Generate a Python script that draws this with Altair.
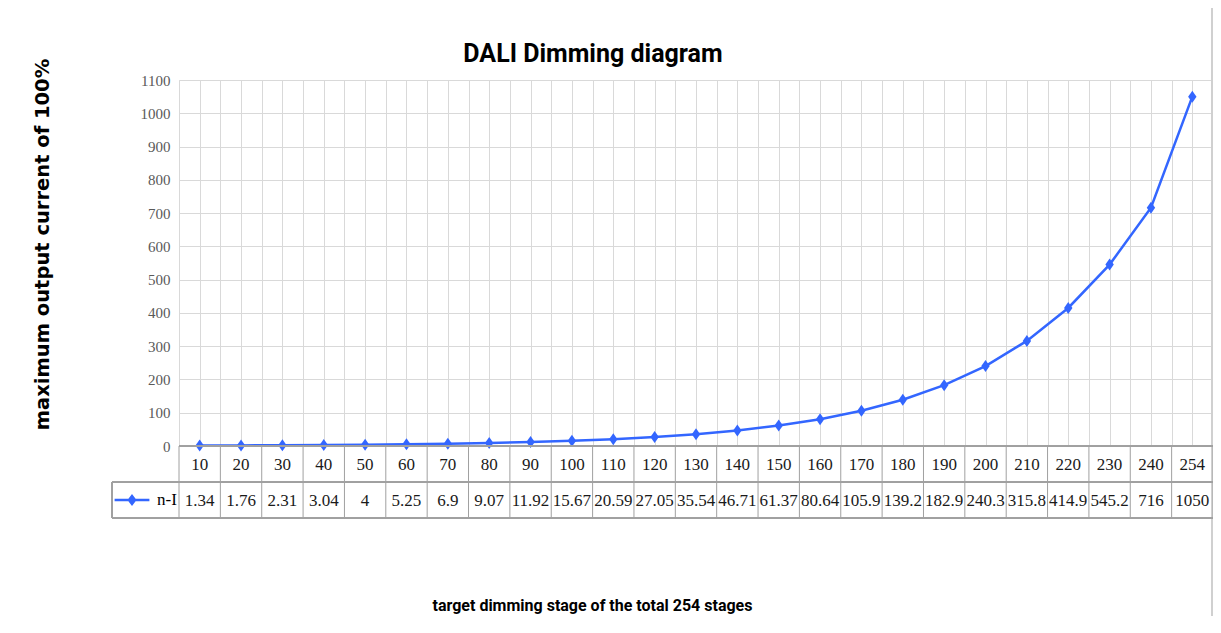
import altair as alt
import pandas as pd

stages = [10, 20, 30, 40, 50, 60, 70, 80, 90, 100, 110, 120, 130, 140, 150,
          160, 170, 180, 190, 200, 210, 220, 230, 240, 254]
values = [1.34, 1.76, 2.31, 3.04, 4, 5.25, 6.9, 9.07, 11.92, 15.67, 20.59, 27.05,
          35.54, 46.71, 61.37, 80.64, 105.9, 139.2, 182.9, 240.3, 315.8, 414.9,
          545.2, 716, 1050]
value_labels = ["1.34", "1.76", "2.31", "3.04", "4", "5.25", "6.9", "9.07", "11.92",
                "15.67", "20.59", "27.05", "35.54", "46.71", "61.37", "80.64", "105.9",
                "139.2", "182.9", "240.3", "315.8", "414.9", "545.2", "716", "1050"]
series_name = "n-I"
y_ticks = list(range(0, 1101, 100))

W, H = 1034, 366
ROW = 36
BLUE = "#3366FF"
GRID = "#D9D9D9"
TABLE = "#A0A0A0"
SERIF = "Liberation Serif, DejaVu Serif, serif"
NARROW = "Roboto, Liberation Sans, Arial, sans-serif"

n = len(stages)
df = pd.DataFrame({
    "pos": [i + 0.5 for i in range(n)],
    "stage": [str(s) for s in stages],
    "value": values,
    "label": value_labels,
    "series": [series_name] * n,
})
bounds = pd.DataFrame({"b": list(range(n + 1))})
grid_pos = [k / 2 for k in range(2 * n + 1)]

xscale = alt.Scale(domain=[0, n], nice=False, zero=False)
yscale = alt.Scale(domain=[0, 1100], nice=False)

xaxis = alt.Axis(values=grid_pos, labels=False, ticks=False, domain=False,
                 grid=True, gridColor=GRID, gridWidth=1,
                 title="target dimming stage of the total 254 stages",
                 titleFont=NARROW, titleFontSize=16, titleFontWeight="bold",
                 titleColor="#000000", titleX=413, titleY=164,
                 titleBaseline="alphabetic", titleAlign="center")
yaxis = alt.Axis(values=y_ticks, format="d", labelOverlap=False, labelFlush=False,
                 ticks=False, domain=False, grid=True,
                 gridColor=GRID, gridWidth=1, labelFont=SERIF, labelFontSize=15,
                 labelColor="#595959", labelPadding=9,
                 title="maximum output current of 100%",
                 titleFont="DejaVu Sans, Verdana, sans-serif", titleFontSize=19.5,
                 titleFontWeight="bold", titleColor="#000000",
                 titleX=-127, titleY=164, titleAngle=-90, titleAlign="center",
                 titleBaseline="bottom")

base = alt.Chart(df)

frame = alt.Chart(bounds).mark_rect(fill=None, stroke="#D0D0D0", strokeWidth=1.5).encode(
    x=alt.value(-173), x2=alt.value(W - 1), y=alt.value(-76), y2=alt.value(H + 200))

line = base.mark_line(color=BLUE, strokeWidth=2.5).encode(
    x=alt.X("pos:Q", scale=xscale, axis=xaxis),
    y=alt.Y("value:Q", scale=yscale, axis=yaxis),
)

legend_path = "M-1.45,-0.1L1.45,-0.1L1.45,0.1L-1.45,0.1Z M0,-0.5L0.38,0L0,0.5L-0.38,0Z"
points = base.mark_point(shape="M0,-1L0.7,0L0,1L-0.7,0Z", filled=True, size=144,
                         opacity=1).encode(
    x=alt.X("pos:Q", scale=xscale, axis=xaxis),
    y=alt.Y("value:Q", scale=yscale, axis=yaxis),
    color=alt.Color("series:N", scale=alt.Scale(range=[BLUE]),
                    legend=alt.Legend(orient="none", legendX=-59, legendY=H + 42,
                                      title=None, symbolType=legend_path,
                                      symbolSize=576, symbolStrokeWidth=0,
                                      labelFont=SERIF, labelFontSize=17,
                                      labelColor="#000000", labelOffset=13,
                                      padding=0)),
)

# table: vertical cell borders
vlines = alt.Chart(bounds).mark_rule(color=TABLE, strokeWidth=1).encode(
    x=alt.X("b:Q", scale=xscale, axis=xaxis),
    y=alt.value(H), y2=alt.value(H + 2 * ROW),
)
# table: horizontal borders
hline_top = alt.Chart(bounds).mark_rule(color=TABLE, strokeWidth=1).encode(
    x=alt.value(0), x2=alt.value(W), y=alt.value(H))
hline_mid = alt.Chart(bounds).mark_rule(color=TABLE, strokeWidth=1).encode(
    x=alt.value(-67), x2=alt.value(W), y=alt.value(H + ROW))
hline_bot = alt.Chart(bounds).mark_rule(color=TABLE, strokeWidth=1).encode(
    x=alt.value(-67), x2=alt.value(W), y=alt.value(H + 2 * ROW))
vline_left = alt.Chart(bounds).mark_rule(color=TABLE, strokeWidth=1).encode(
    x=alt.value(-67), y=alt.value(H + ROW), y2=alt.value(H + 2 * ROW))

stage_text = base.mark_text(font=SERIF, fontSize=17, color="#1a1a1a",
                            baseline="middle").encode(
    x=alt.X("pos:Q", scale=xscale, axis=xaxis), y=alt.value(H + ROW / 2 + 1),
    text="stage:N")
value_text = base.mark_text(font=SERIF, fontSize=17, color="#1a1a1a",
                            baseline="middle").encode(
    x=alt.X("pos:Q", scale=xscale, axis=xaxis), y=alt.value(H + 1.5 * ROW + 1),
    text="label:N")

chart = alt.layer(
    frame, line, points, vlines, hline_top, hline_mid, hline_bot, vline_left,
    stage_text, value_text,
).properties(
    width=W, height=H,
    title=alt.TitleParams("DALI Dimming diagram", font=NARROW, fontSize=25,
                          fontWeight="bold", color="#000000", anchor="middle",
                          dx=-103, dy=71, offset=7),
    autosize=alt.AutoSizeParams(type="none"),
    padding={"left": 171, "top": 72, "right": 0, "bottom": 170},
).configure_view(stroke=None).configure(background="#FFFFFF").configure_axisY(
    labelOverlap=False, labelFlush=False)

chart.save("out.html", embed_options={"renderer": "svg", "actions": False})
